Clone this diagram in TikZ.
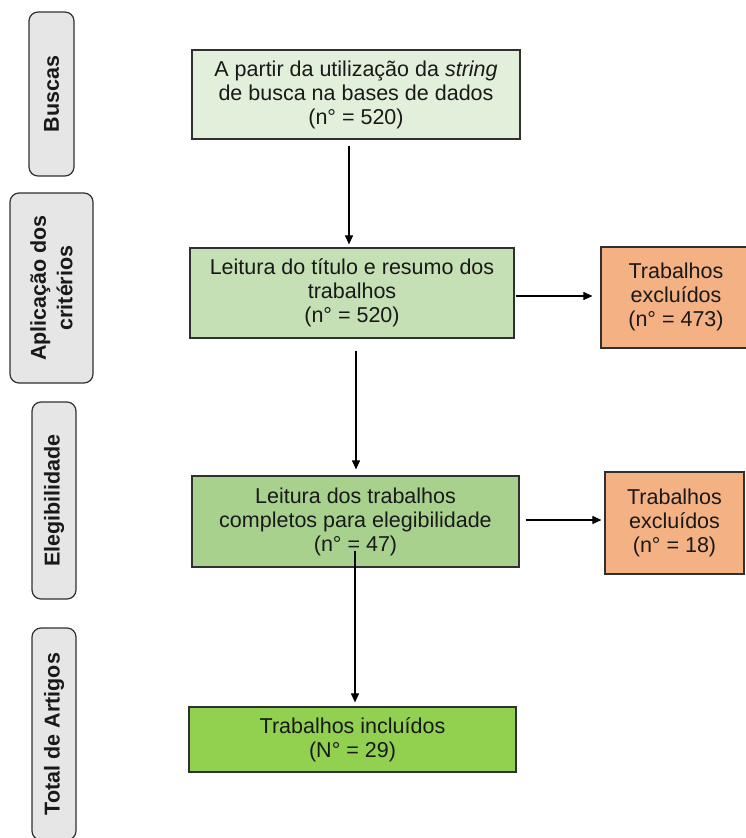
\documentclass[tikz,border=0pt]{standalone}
\usepackage{fontspec}
\setmainfont{Liberation Sans}
\usetikzlibrary{arrows.meta,calc}
\definecolor{g1}{HTML}{E2EFDA}
\definecolor{g2}{HTML}{C5E0B4}
\definecolor{g3}{HTML}{A9D18E}
\definecolor{g4}{HTML}{92D050}
\definecolor{exc}{HTML}{F4B183}
\definecolor{lab}{HTML}{E7E6E6}
\definecolor{edge}{HTML}{303030}
\begin{document}
\begin{tikzpicture}[x=1pt,y=-1pt,
  every node/.style={font=\fontsize{21.5}{24}\selectfont, text=black!90},
  box/.style={draw=edge, line width=1.2pt, rectangle, align=center, inner sep=0pt},
  stage/.style={draw=edge, fill=lab, line width=1.2pt, rounded corners=9pt, align=center, inner sep=0pt, rotate=90, font=\fontsize{21.5}{26.5}\selectfont\bfseries},
  arr/.style={draw=black, line width=1.1pt, -{Triangle[length=9pt,width=8pt]}}]
\useasboundingbox (0,0) rectangle (745,838);
% stage labels (rotated: minimum width = vertical extent)
\node[stage, minimum width=164pt, minimum height=45pt] (s1) at (51.5,94) {Buscas};
\node[stage, minimum width=190pt, minimum height=83pt] (s2) at (51.5,288) {Aplicação dos\\critérios};
\node[stage, minimum width=197pt, minimum height=44pt] (s3) at (54,500.5) {Elegibilidade};
\node[stage, minimum width=212pt, minimum height=44pt] (s4) at (54,734) {Total de Artigos};
% main boxes
\node[box, fill=g1, minimum width=328pt, minimum height=89pt] (b1) at (356,94.5) {A partir da utilização da \textit{string}\\de busca na bases de dados\\(n° = 520)};
\node[box, fill=g2, minimum width=324pt, minimum height=90pt] (b2) at (352,293) {Leitura do título e resumo dos\\trabalhos\\(n° = 520)};
\node[box, fill=g3, minimum width=327pt, minimum height=91pt] (b3) at (355.5,521.5) {Leitura dos trabalhos\\completos para elegibilidade\\(n° = 47)};
\node[box, fill=g4, minimum width=327pt, minimum height=65pt] (b4) at (352.5,739.5) {Trabalhos incluídos\\(N° = 29)};
% excluded boxes
\node[box, fill=exc, minimum width=149pt, minimum height=101pt] (e1) at (675.5,297.5) {};
\node[align=center] (e1t) at (676,297) {Trabalhos\\excluídos\\(n° = 473)};
\node[box, fill=exc, minimum width=139pt, minimum height=102pt] (e2) at (674.5,523) {Trabalhos\\excluídos\\(n° = 18)};
% connectors
\coordinate (c1) at ($(b1.south)+(-7,6)$);
\draw[arr, shorten >=3pt] (c1) -- (c1 |- b2.north);
\coordinate (c2) at ($(b2.east)+(1,3)$);
\draw[arr, shorten >=8pt] (c2) -- (c2 -| e1.west);
\coordinate (c3) at ($(b2.south)+(4,12)$);
\draw[arr, shorten >=6pt] (c3) -- (c3 |- b3.north);
\coordinate (c4) at ($(b3.south)+(-0.5,-17)$);
\draw[arr, shorten >=4pt] (c4) -- (c4 |- b4.north);
\coordinate (c5) at ($(b3.east)+(6,-1.5)$);
\draw[arr, shorten >=3pt] (c5) -- (c5 -| e2.west);
\end{tikzpicture}
\end{document}
